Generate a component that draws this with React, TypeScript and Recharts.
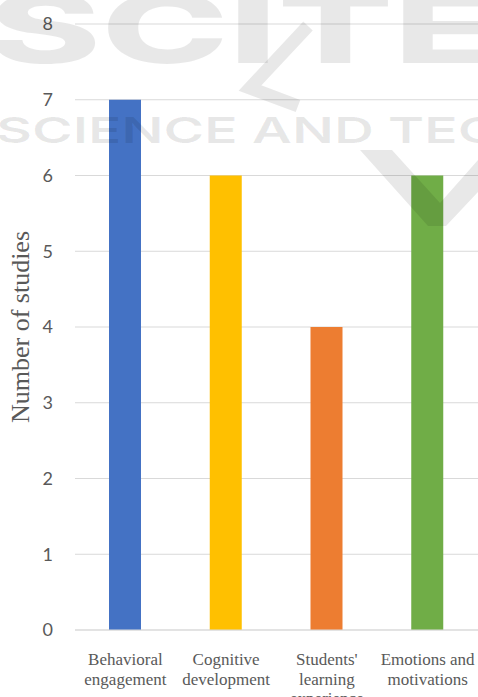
import { BarChart, Bar, XAxis, YAxis, CartesianGrid, Cell } from 'recharts'

// Número de estudios por categoría
const categories = ['Behavioral engagement', 'Cognitive development', "Students' learning experience", 'Emotions and motivations']
const tickLines = [
  ['Behavioral', 'engagement'],
  ['Cognitive', 'development'],
  ["Students'", 'learning', 'experience'],
  ['Emotions and', 'motivations'],
]
const studies = [7, 6, 4, 6]
const barColors = ['#4472C4', '#FFC000', '#ED7D31', '#70AD47']
const yTicks = [0, 1, 2, 3, 4, 5, 6, 7, 8]

const data = categories.map((c, i) => ({ name: c, value: studies[i], idx: i }))

function CategoryTick(props: any) {
  const { x, y, index } = props
  const lines = tickLines[index] || []
  return (
    <text x={x} y={y + 27} textAnchor="middle" fill="#595959" fontFamily="'Liberation Serif', 'Times New Roman', serif" fontSize={17}>
      {lines.map((l, i) => (
        <tspan key={i} x={x} dy={i === 0 ? 0 : 19.5}>
          {l}
        </tspan>
      ))}
    </text>
  )
}

export default function App() {
  return (
    <div style={{ position: 'absolute', left: 0, top: 0, width: 478, height: 697, background: '#fff' }}>
      <BarChart width={478} height={697} data={data} margin={{ top: 24, right: 0, bottom: 0, left: 0 }} barSize={32}>
        <CartesianGrid vertical={false} stroke="#d9d9d9" strokeWidth={1.2} />
        <XAxis
          dataKey="name"
          height={67}
          tickLine={false}
          axisLine={{ stroke: '#d9d9d9', strokeWidth: 1.2 }}
          tick={<CategoryTick />}
          interval={0}
        />
        <YAxis
          width={75}
          domain={[0, 8]}
          ticks={yTicks}
          tickLine={false}
          axisLine={false}
          tickMargin={16}
          tick={{ fill: '#595959', fontSize: 18, fontFamily: 'Lato, sans-serif' }}
          label={{
            value: 'Number of studies',
            angle: -90,
            position: 'insideLeft',
            offset: 0,
            dx: 20,
            style: { textAnchor: 'middle', fill: '#595959', fontSize: 26, fontFamily: "'Liberation Serif', 'Times New Roman', serif" },
          }}
        />
        <Bar dataKey="value" isAnimationActive={false}>
          {data.map((d) => (
            <Cell key={d.name} fill={barColors[d.idx]} />
          ))}
        </Bar>
      </BarChart>
      {/* marca de agua */}
      <svg width={478} height={697} style={{ position: 'absolute', left: 0, top: 0, pointerEvents: 'none' }}>
        <g fill="#000" fillOpacity={0.09} fontFamily="Inter, sans-serif" fontWeight={800}>
          <text x={-12} y={63} fontSize={96} textLength={510} lengthAdjust="spacingAndGlyphs">
            SCITE
          </text>
          <text x={-4} y={143} fontSize={36} fontWeight={600} textLength={780} lengthAdjust="spacingAndGlyphs">
            SCIENCE AND TECHNOLOGY
          </text>
        </g>
        <polyline points="308,26 250,88 298,106" fill="none" stroke="#000" strokeOpacity={0.09} strokeWidth={13} />
        <polygon points="360,150 392,150 440,203 478,160 478,192 446,226 428,226" fill="#000" fillOpacity={0.09} />
      </svg>
    </div>
  )
}
